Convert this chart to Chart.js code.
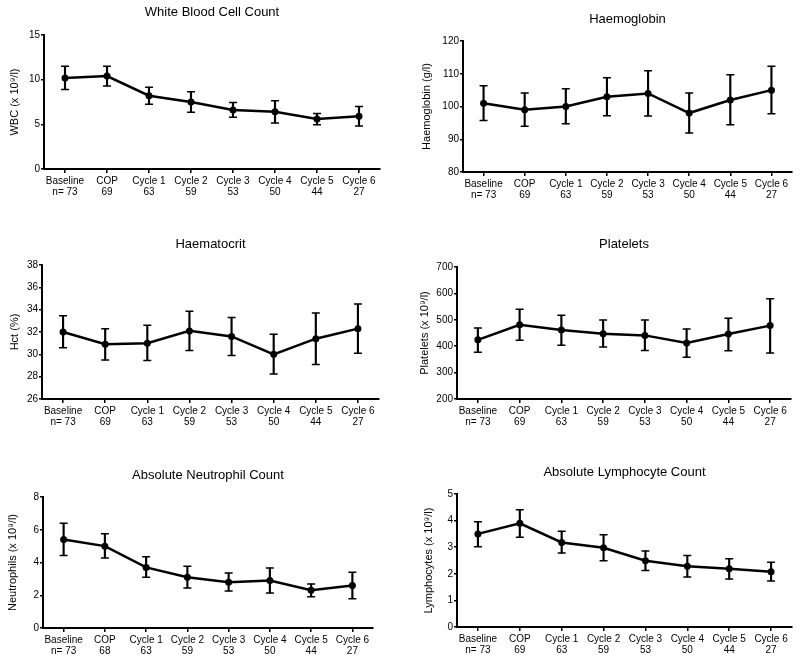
<!DOCTYPE html>
<html>
<head>
<meta charset="utf-8">
<script src="https://cdn.jsdelivr.net/npm/chart.js@4.4.1/dist/chart.umd.min.js"></script>
<style>
  html, body { margin: 0; padding: 0; background: #fff; }
  body { position: relative; width: 800px; height: 663px; overflow: hidden; }
  canvas { position: absolute; }
</style>
</head>
<body>
<script>
const categories = ['Baseline', 'COP', 'Cycle 1', 'Cycle 2', 'Cycle 3', 'Cycle 4', 'Cycle 5', 'Cycle 6'];
const nCounts = ['n= 73', '69', '63', '59', '53', '50', '44', '27'];
const nCountsNeutrophil = ['n= 73', '68', '63', '59', '53', '50', '44', '27'];

const wbcMean = [10.2, 10.4, 8.2, 7.5, 6.6, 6.4, 5.6, 5.9];
const wbcHigh = [11.5, 11.5, 9.15, 8.65, 7.45, 7.65, 6.2, 7.0];
const wbcLow = [8.9, 9.3, 7.25, 6.35, 5.8, 5.15, 4.95, 4.8];

const hbMean = [101, 99, 100, 103, 104, 98, 102, 105];
const hbHigh = [106.3, 104.1, 105.4, 108.8, 110.9, 104.1, 109.7, 112.3];
const hbLow = [95.7, 94.0, 94.7, 97.2, 97.1, 91.9, 94.4, 97.8];

const hctMean = [32.0, 30.9, 31.0, 32.1, 31.6, 30.0, 31.4, 32.3];
const hctHigh = [33.45, 32.3, 32.6, 33.85, 33.3, 31.8, 33.7, 34.5];
const hctLow = [30.6, 29.5, 29.45, 30.35, 29.9, 28.25, 29.1, 30.1];

const pltMean = [424, 481, 461, 447, 441, 412, 446, 478];
const pltHigh = [469, 540, 517, 499, 499, 465, 506, 580];
const pltLow = [377, 423, 404, 397, 384, 358, 383, 374];

const ancMean = [5.4, 5.0, 3.7, 3.1, 2.8, 2.9, 2.3, 2.6];
const ancHigh = [6.4, 5.75, 4.35, 3.77, 3.36, 3.67, 2.69, 3.4];
const ancLow = [4.42, 4.28, 3.1, 2.44, 2.26, 2.14, 1.91, 1.79];

const alcMean = [3.5, 3.9, 3.18, 2.98, 2.49, 2.28, 2.19, 2.08];
const alcHigh = [3.96, 4.41, 3.6, 3.47, 2.86, 2.69, 2.57, 2.43];
const alcLow = [3.02, 3.37, 2.78, 2.49, 2.12, 1.88, 1.8, 1.73];

const FONT = '"Liberation Sans", Arial, Helvetica, sans-serif';

// layout of each panel in page pixels
const panels = [
  { title: 'White Blood Cell Count', yTitle: 'WBC (x 10\u2079/l)', n: nCounts,
    mean: wbcMean, high: wbcHigh, low: wbcLow, min: 0, max: 15, step: 5,
    titleY: 12, yTitleX: 15, axisX: 44, top: 35, bottom: 169, right: 380 },
  { title: 'Haemoglobin', yTitle: 'Haemoglobin (g/l)', n: nCounts,
    mean: hbMean, high: hbHigh, low: hbLow, min: 80, max: 120, step: 10,
    titleY: 19, yTitleX: 427, axisX: 463, top: 41, bottom: 172, right: 792 },
  { title: 'Haematocrit', yTitle: 'Hct (%)', n: nCounts,
    mean: hctMean, high: hctHigh, low: hctLow, min: 26, max: 38, step: 2,
    titleY: 244, yTitleX: 15, axisX: 42, top: 265, bottom: 399, right: 379 },
  { title: 'Platelets', yTitle: 'Platelets (x 10\u2079/l)', n: nCounts,
    mean: pltMean, high: pltHigh, low: pltLow, min: 200, max: 700, step: 100,
    titleY: 244, yTitleX: 425, axisX: 457, top: 267, bottom: 399, right: 791 },
  { title: 'Absolute Neutrophil Count', yTitle: 'Neutrophils (x 10\u2079/l)', n: nCountsNeutrophil,
    mean: ancMean, high: ancHigh, low: ancLow, min: 0, max: 8, step: 2,
    titleY: 475, yTitleX: 13, axisX: 43, top: 497, bottom: 628, right: 373 },
  { title: 'Absolute Lymphocyte Count', yTitle: 'Lymphocytes (x 10\u2079/l)', n: nCounts,
    mean: alcMean, high: alcHigh, low: alcLow, min: 0, max: 5, step: 1,
    titleY: 472, yTitleX: 429, axisX: 457, top: 494, bottom: 627, right: 792 },
];

function makePanel(p) {
  const left = Math.floor(p.yTitleX - 7);
  const top = Math.floor(p.titleY - 10);
  const width = Math.ceil(p.right + 6 - left);
  const xAxisHeight = 32;
  const height = Math.ceil(p.bottom - top + xAxisHeight);

  const canvas = document.createElement('canvas');
  canvas.width = width;
  canvas.height = height;
  canvas.style.left = left + 'px';
  canvas.style.top = top + 'px';
  document.body.appendChild(canvas);

  const titlePadTop = p.titleY - top - 7.8;
  const titlePadBottom = p.top - top - titlePadTop - 15.6;
  const labels = categories.map((c, i) => [c, p.n[i]]);

  new Chart(canvas.getContext('2d'), {
    data: {
      labels,
      datasets: [
        {
          type: 'line',
          data: p.mean,
          borderColor: '#000',
          borderWidth: 2.5,
          pointRadius: 3.5,
          pointBackgroundColor: '#000',
          pointBorderWidth: 0,
          tension: 0,
          order: 0,
        },
        {
          type: 'line',
          data: p.high,
          showLine: false,
          pointStyle: 'line',
          pointRadius: 4,
          pointBorderWidth: 1.5,
          pointBorderColor: '#000',
          order: 1,
        },
        {
          type: 'line',
          data: p.low,
          showLine: false,
          pointStyle: 'line',
          pointRadius: 4,
          pointBorderWidth: 1.5,
          pointBorderColor: '#000',
          order: 1,
        },
        {
          type: 'bar',
          data: p.low.map((lo, i) => [lo, p.high[i]]),
          backgroundColor: '#000',
          borderWidth: 0,
          barThickness: 1.5,
          order: 2,
        },
      ],
    },
    options: {
      responsive: false,
      animation: false,
      events: [],
      layout: { padding: { left: 0, right: 6, top: 0, bottom: 0 } },
      scales: {
        x: {
          type: 'category',
          offset: true,
          afterFit: (scale) => { scale.height = xAxisHeight; },
          grid: { offset: false, drawOnChartArea: false, drawTicks: true, tickLength: 4, color: '#000', lineWidth: 1.5 },
          border: { display: true, color: '#000', width: 2 },
          ticks: {
            color: '#000',
            font: { family: FONT, size: 10, lineHeight: 1.1 },
            padding: 3,
            maxRotation: 0,
            autoSkip: false,
          },
        },
        y: {
          min: p.min,
          max: p.max,
          afterFit: (scale) => { scale.width = p.axisX - left; },
          grid: { drawOnChartArea: false, drawTicks: true, tickLength: 3, color: '#000', lineWidth: 1.5 },
          border: { display: true, color: '#000', width: 2 },
          ticks: {
            stepSize: p.step,
            color: '#000',
            font: { family: FONT, size: 10 },
            padding: 1,
          },
          title: {
            display: true,
            text: p.yTitle,
            color: '#000',
            font: { family: FONT, size: 11 },
            padding: 0,
          },
        },
      },
      plugins: {
        legend: { display: false },
        tooltip: { enabled: false },
        title: {
          display: true,
          text: p.title,
          fullSize: false,
          color: '#000',
          font: { family: FONT, size: 13, weight: 'normal', lineHeight: 1.2 },
          padding: { top: titlePadTop, bottom: titlePadBottom },
        },
      },
    },
  });
}

panels.forEach(makePanel);
</script>
</body>
</html>
